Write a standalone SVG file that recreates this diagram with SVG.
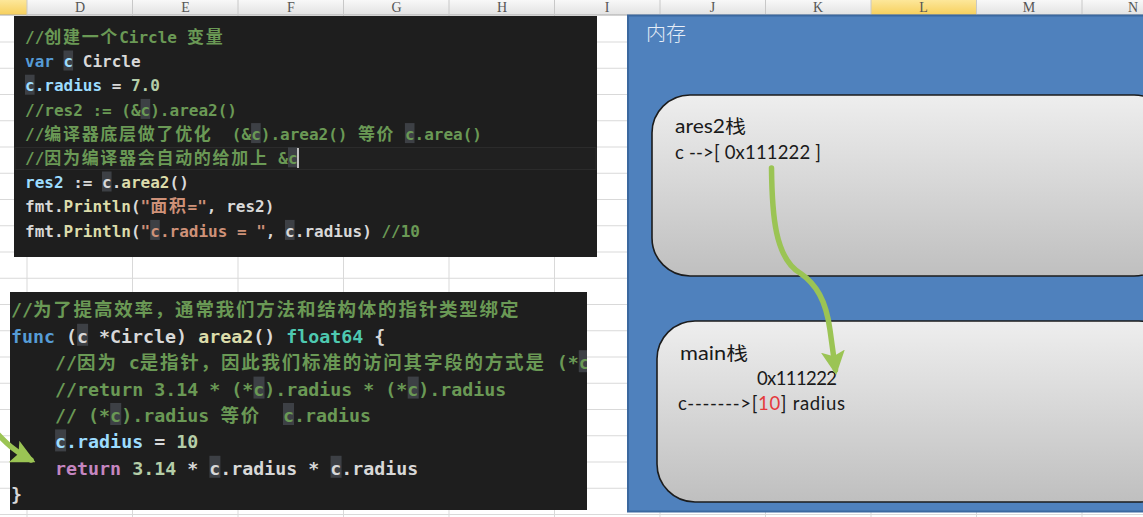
<svg xmlns="http://www.w3.org/2000/svg" width="1143" height="517" viewBox="0 0 1143 517" xml:space="preserve">
<style>
.grid{stroke:#d9d9d9;stroke-width:1}
.hdr{font-family:"Liberation Serif",serif;font-size:14px;fill:#555;text-anchor:middle}
.code{fill:#1e1e1e}
.m1{font-family:"DejaVu Sans Mono","Noto Sans CJK SC",monospace;font-size:16px;font-weight:bold;white-space:pre}
.m2{font-family:"DejaVu Sans Mono","Noto Sans CJK SC",monospace;font-size:18.3px;font-weight:bold;white-space:pre}
.c1{font-family:"Noto Sans CJK SC",sans-serif;font-size:17px;letter-spacing:1.7px}
.c2{font-family:"Noto Sans CJK SC",sans-serif;font-size:18.5px;letter-spacing:1.8px}
.cm{fill:#6a9955}.kw{fill:#569cd6}.vr{fill:#9cdcfe}.tx{fill:#d8d8d8}.fn{fill:#dcdcaa}
.st{fill:#ce9178}.nu{fill:#b5cea8}.ty{fill:#4ec9b0}.rt{fill:#c586c0}
.hl{fill:#3d4045}
.box{fill:url(#boxg);stroke:#1c1c1c;stroke-width:1.6}
.lbl{font-family:Lato,"Noto Sans CJK SC",sans-serif;font-size:18.5px;fill:#1a1a1a;white-space:pre}
.arrow{fill:none;stroke:#9bc454;stroke-width:5.5;stroke-linecap:round}
</style>
<defs>
<linearGradient id="hdrg" x1="0" y1="0" x2="0" y2="1"><stop offset="0" stop-color="#f8f8f8"/><stop offset="1" stop-color="#e2e2e2"/></linearGradient>
<linearGradient id="selg" x1="0" y1="0" x2="0" y2="1"><stop offset="0" stop-color="#fde79a"/><stop offset="1" stop-color="#f6cf5c"/></linearGradient>
<linearGradient id="boxg" x1="0" y1="0" x2="0" y2="1"><stop offset="0" stop-color="#eeeeee"/><stop offset="1" stop-color="#bfbfbf"/></linearGradient>
<marker id="ah" viewBox="0 0 24 24" refX="19" refY="12" markerWidth="24" markerHeight="24" markerUnits="userSpaceOnUse" orient="auto"><path d="M0,0 L24,12 L0,24 L5,12 z" fill="#9bc454"/></marker>
<clipPath id="clip2"><rect x="10" y="292" width="577" height="218"/></clipPath>
</defs>
<g id="sheet">
<rect x="0" y="0" width="1143" height="517" fill="#ffffff"/>
<g class="grid">
<line x1="0" y1="42" x2="1143" y2="42"/><line x1="0" y1="68.25" x2="1143" y2="68.25"/><line x1="0" y1="94.5" x2="1143" y2="94.5"/><line x1="0" y1="120.75" x2="1143" y2="120.75"/><line x1="0" y1="147" x2="1143" y2="147"/><line x1="0" y1="173.25" x2="1143" y2="173.25"/><line x1="0" y1="199.5" x2="1143" y2="199.5"/><line x1="0" y1="225.75" x2="1143" y2="225.75"/><line x1="0" y1="252" x2="1143" y2="252"/><line x1="0" y1="278.25" x2="1143" y2="278.25"/><line x1="0" y1="304.5" x2="1143" y2="304.5"/><line x1="0" y1="330.75" x2="1143" y2="330.75"/><line x1="0" y1="357" x2="1143" y2="357"/><line x1="0" y1="383.25" x2="1143" y2="383.25"/><line x1="0" y1="409.5" x2="1143" y2="409.5"/><line x1="0" y1="435.75" x2="1143" y2="435.75"/><line x1="0" y1="462" x2="1143" y2="462"/><line x1="0" y1="488.25" x2="1143" y2="488.25"/><line x1="0" y1="514.5" x2="1143" y2="514.5"/>
<line x1="27" y1="15" x2="27" y2="517"/><line x1="132.5" y1="15" x2="132.5" y2="517"/><line x1="238" y1="15" x2="238" y2="517"/><line x1="343.5" y1="15" x2="343.5" y2="517"/><line x1="449" y1="15" x2="449" y2="517"/><line x1="554.5" y1="15" x2="554.5" y2="517"/><line x1="660" y1="15" x2="660" y2="517"/><line x1="765.5" y1="15" x2="765.5" y2="517"/><line x1="871" y1="15" x2="871" y2="517"/><line x1="976.5" y1="15" x2="976.5" y2="517"/><line x1="1082" y1="15" x2="1082" y2="517"/>
</g>
</g>
<g id="header">
<rect x="0" y="0" width="1143" height="15" fill="url(#hdrg)"/>
<rect x="0" y="0" width="27" height="15" fill="url(#selg)"/>
<rect x="871" y="0" width="105.5" height="15" fill="url(#selg)"/>
<line x1="0" y1="15" x2="1143" y2="15" stroke="#a8a8a8"/>
<g stroke="#c8c8c8"><line x1="27" y1="0" x2="27" y2="15"/><line x1="132.5" y1="0" x2="132.5" y2="15"/><line x1="238" y1="0" x2="238" y2="15"/><line x1="343.5" y1="0" x2="343.5" y2="15"/><line x1="449" y1="0" x2="449" y2="15"/><line x1="554.5" y1="0" x2="554.5" y2="15"/><line x1="660" y1="0" x2="660" y2="15"/><line x1="765.5" y1="0" x2="765.5" y2="15"/><line x1="871" y1="0" x2="871" y2="15"/><line x1="976.5" y1="0" x2="976.5" y2="15"/><line x1="1082" y1="0" x2="1082" y2="15"/></g>
<text class="hdr" x="80" y="12">D</text><text class="hdr" x="185.5" y="12">E</text><text class="hdr" x="291" y="12">F</text><text class="hdr" x="396.5" y="12">G</text><text class="hdr" x="502" y="12">H</text><text class="hdr" x="607" y="12">I</text><text class="hdr" x="712.5" y="12">J</text><text class="hdr" x="818" y="12">K</text><text class="hdr" x="923.5" y="12">L</text><text class="hdr" x="1029" y="12">M</text><text class="hdr" x="1133" y="12">N</text>
</g>
<g id="code-main">
<rect class="code" x="14" y="16" width="583" height="241"/>
<rect x="15" y="147.5" width="581" height="22" fill="#202020" stroke="#2b2b2b" stroke-width="1"/>
<rect class="hl" x="63.5" y="50.5" width="9.6" height="20"/>
<rect class="hl" x="25" y="74.7" width="9.6" height="20"/>
<rect class="hl" x="140.6" y="98.9" width="9.6" height="20"/>
<rect class="hl" x="251.1" y="123.1" width="9.6" height="20"/>
<rect class="hl" x="404.9" y="123.1" width="9.6" height="20"/>
<rect class="hl" x="288" y="147.3" width="9.6" height="20"/>
<rect class="hl" x="102" y="171.5" width="9.6" height="20"/>
<rect class="hl" x="150.2" y="219.9" width="9.6" height="20"/>
<rect class="hl" x="285" y="219.9" width="9.6" height="20"/>
<text class="m1 cm" x="25" y="43">//<tspan class="c1">创建一个</tspan><tspan x="119.2">Circle </tspan><tspan class="c1" x="187">变量</tspan></text>
<text class="m1" x="25" y="67.2"><tspan class="kw">var</tspan> <tspan class="vr">c</tspan> <tspan class="tx">Circle</tspan></text>
<text class="m1" x="25" y="91.4"><tspan class="vr">c.radius</tspan><tspan class="tx"> = </tspan><tspan class="nu">7.0</tspan></text>
<text class="m1 cm" x="25" y="115.6">//res2 := (&amp;c).area2()</text>
<text class="m1 cm" x="25" y="139.8">//<tspan class="c1">编译器底层做了优化</tspan><tspan x="212.6">  (&amp;c).area2() </tspan><tspan class="c1" x="357.9">等价</tspan><tspan x="395.3"> c.area()</tspan></text>
<text class="m1 cm" x="25" y="164">//<tspan class="c1">因为编译器会自动的给加上</tspan><tspan x="268.7"> &amp;c</tspan></text>
<line x1="298" y1="148" x2="298" y2="168" stroke="#e8e8e8" stroke-width="1.6"/>
<text class="m1" x="25" y="188.2"><tspan class="vr">res2</tspan><tspan class="tx"> := c.</tspan><tspan class="fn">area2</tspan><tspan class="tx">()</tspan></text>
<text class="m1" x="25" y="212.4"><tspan class="tx">fmt.</tspan><tspan class="fn">Println</tspan><tspan class="tx">(</tspan><tspan class="st">"</tspan><tspan class="st c1" x="150.2">面积</tspan><tspan class="st" x="187.6">="</tspan><tspan class="tx">, res2)</tspan></text>
<text class="m1" x="25" y="236.6"><tspan class="tx">fmt.</tspan><tspan class="fn">Println</tspan><tspan class="tx">(</tspan><tspan class="st">"c.radius = "</tspan><tspan class="tx">, c.radius)</tspan><tspan class="cm"> //10</tspan></text>
</g>
<g id="code-method">
<rect class="code" x="10" y="292" width="577" height="218"/>
<g clip-path="url(#clip2)">
<rect class="hl" x="77.1" y="323.8" width="11" height="22"/>
<rect class="hl" x="578.8" y="350.2" width="11" height="22"/>
<rect class="hl" x="253.5" y="376.6" width="11" height="22"/>
<rect class="hl" x="407.7" y="376.6" width="11" height="22"/>
<rect class="hl" x="110.2" y="403" width="11" height="22"/>
<rect class="hl" x="283" y="403" width="11" height="22"/>
<rect class="hl" x="55.1" y="429.4" width="11" height="22"/>
<rect class="hl" x="209.4" y="455.8" width="11" height="22"/>
<rect class="hl" x="330.6" y="455.8" width="11" height="22"/>
<text class="m2 cm" x="11" y="316.4">//<tspan class="c2">为了提高效率，通常我们方法和结构体的指针类型绑定</tspan></text>
<text class="m2" x="11" y="342.8"><tspan class="kw">func</tspan><tspan class="tx"> (c *Circle) </tspan><tspan class="fn">area2</tspan><tspan class="tx">() </tspan><tspan class="ty">float64</tspan><tspan class="tx"> {</tspan></text>
<text class="m2 cm" x="55.1" y="369.2">//<tspan class="c2">因为</tspan><tspan x="117.7"> c</tspan><tspan class="c2" x="139.7">是指针，因此我们标准的访问其字段的方式是</tspan><tspan x="545.7"> (*c</tspan></text>
<text class="m2 cm" x="55.1" y="395.6">//return 3.14 * (*c).radius * (*c).radius</text>
<text class="m2 cm" x="55.1" y="422">// (*c).radius <tspan class="c2" x="220.4">等价</tspan><tspan x="261">  c.radius</tspan></text>
<text class="m2" x="55.1" y="448.4"><tspan class="vr">c.radius</tspan><tspan class="tx"> = </tspan><tspan class="nu">10</tspan></text>
<text class="m2" x="55.1" y="474.8"><tspan class="rt">return</tspan><tspan class="tx"> </tspan><tspan class="nu">3.14</tspan><tspan class="tx"> * c.radius * c.radius</tspan></text>
<text class="m2 tx" x="11" y="501.2">}</text>
</g>
</g>
<g id="memory">
<rect x="628" y="15.5" width="516" height="496" fill="#4f81bd" stroke="#3b689f" stroke-width="2"/>
<text x="646" y="41" font-family="'Noto Sans CJK SC',sans-serif" font-size="20" font-weight="300" fill="#e6edf7">内存</text>
</g>
<g id="stack-ares2">
<rect class="box" x="652" y="95" width="520" height="181" rx="38" ry="38"/>
<text class="lbl" x="675" y="133" textLength="71" lengthAdjust="spacingAndGlyphs">ares2栈</text>
<text class="lbl" x="675" y="158.5" textLength="146" lengthAdjust="spacing">c --&gt;[ 0x111222 ]</text>
</g>
<g id="stack-main">
<rect class="box" x="657" y="321" width="520" height="181" rx="38" ry="38"/>
<text class="lbl" x="680" y="360" textLength="68" lengthAdjust="spacingAndGlyphs">main栈</text>
<text class="lbl" x="757" y="385" textLength="80" lengthAdjust="spacing">0x111222</text>
<text class="lbl" x="678" y="410" textLength="167" lengthAdjust="spacing">c-------&gt;[<tspan fill="#e5383b">10</tspan>] radius</text>
</g>
<g id="connectors">
<path class="arrow" d="M771.5,168 C772,215 775,258 800,273 C816,284 826,300 830,330 L835.5,370" marker-end="url(#ah)"/>
<path class="arrow" d="M-6,430 C5,442 15,452 31,460" marker-end="url(#ah)"/>
</g>
</svg>
